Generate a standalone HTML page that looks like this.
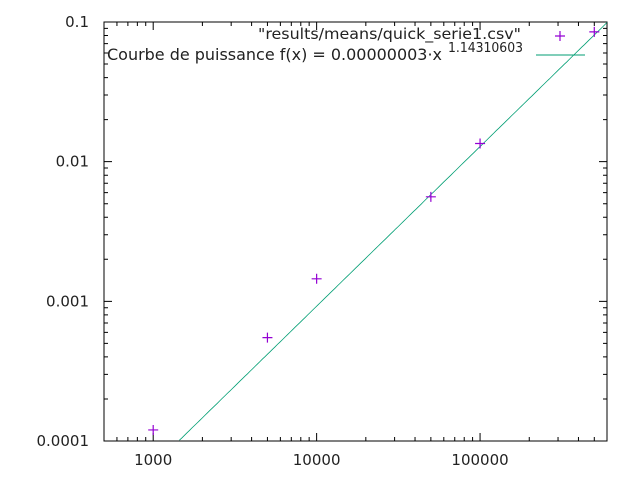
<!DOCTYPE html>
<html><head><meta charset="utf-8"><style>
body{margin:0;background:#fff}
svg{display:block}
text{font-family:"DejaVu Sans","Liberation Sans",sans-serif;font-size:15px;fill:#222}
</style></head><body>
<svg width="640" height="480">
<g id="axes"></g>
<rect x="104" y="22" width="503" height="419" fill="none" stroke="#000" stroke-width="1"/>
<g id="marks"></g>
<text x="521" y="39" text-anchor="end" textLength="263" lengthAdjust="spacingAndGlyphs">"results/means/quick_serie1.csv"</text>
<text x="107" y="60" textLength="335" lengthAdjust="spacingAndGlyphs" style="font-size:16px">Courbe de puissance f(x) = 0.00000003·x</text>
<text x="448" y="52" textLength="75" lengthAdjust="spacingAndGlyphs" style="font-size:13px">1.14310603</text>
<line x1="536" y1="55" x2="585" y2="55" stroke="#009e73" stroke-width="1"/>
<path d="M555 36h10M560 31v10" stroke="#9400d3" stroke-width="1.2"/>
</svg>
<script>
const xValues=[1000,5000,10000,50000,100000,500000];
const yValues=[0.00012,0.00055,0.00145,0.0056,0.0135,0.085];
const xTicks=[1000,10000,100000];
const xTickLabels=["1000","10000","100000"];
const yTicks=[0.0001,0.001,0.01,0.1];
const yTickLabels=["0.0001","0.001","0.01","0.1"];
const fitA=2.47e-8, fitB=1.14310603;
const L=104,R=607,T=22,B=441;
const xmin=Math.log10(500),xmax=Math.log10(598000),ymin=-4,ymax=-1;
const sx=v=>L+(Math.log10(v)-xmin)/(xmax-xmin)*(R-L);
const sy=v=>B-(Math.log10(v)-ymin)/(ymax-ymin)*(B-T);
const NS="http://www.w3.org/2000/svg";
const axes=document.getElementById('axes'),marks=document.getElementById('marks');
function mk(tag,attrs,parent){const e=document.createElementNS(NS,tag);for(const k in attrs)e.setAttribute(k,attrs[k]);parent.appendChild(e);return e;}
for(let d=2;d<=5;d++){for(let m=1;m<10;m++){const v=m*Math.pow(10,d);if(v<500||v>598000)continue;const x=sx(v);const len=m===1?8:4;
const t=mk('path',{d:`M${x} ${B}v${-len}M${x} ${T}v${len}`,stroke:'#000','stroke-width':1},axes);

}}
xTicks.forEach((v,i)=>{const t=mk('text',{x:sx(v),y:B+24,'text-anchor':'middle'},axes);t.textContent=xTickLabels[i];

});
for(let d=-4;d<=-1;d++){for(let m=1;m<10;m++){const v=m*Math.pow(10,d);if(v>0.1000001)continue;const y=sy(v);const len=m===1?8:4;
const t=mk('path',{d:`M${L} ${y}h${len}M${R} ${y}h${-len}`,stroke:'#000','stroke-width':1},axes);

}}
yTicks.forEach((v,i)=>{const t=mk('text',{x:89,y:sy(v)+5,'text-anchor':'end'},axes);t.textContent=yTickLabels[i];

});
let pts=[];for(let i=0;i<=200;i++){const lx=xmin+(xmax-xmin)*i/200;const x=Math.pow(10,lx);const y=fitA*Math.pow(x,fitB);if(y<1e-4||y>0.1)continue;pts.push(sx(x).toFixed(1)+','+sy(y).toFixed(1));}
const fl=mk('polyline',{points:pts.join(' '),fill:'none',stroke:'#009e73','stroke-width':0.8},marks);


xValues.forEach((v,i)=>{const x=sx(v),y=sy(yValues[i]);
const p=mk('path',{d:`M${x-5} ${y}h10M${x} ${y-5}v10`,stroke:'#9400d3','stroke-width':1.2},marks);

});
</script>
</body></html>
